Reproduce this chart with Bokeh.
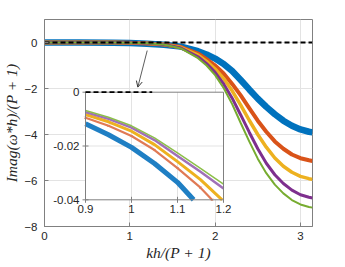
import numpy as np
from bokeh.plotting import figure
from bokeh.models import Range1d, FixedTicker, Arrow, OpenHead
from bokeh.embed import file_html
from bokeh.resources import INLINE
from bokeh.core.properties import value

# ---------------- data ----------------
x_main = [0.0, 0.4, 0.8, 1.0, 1.2, 1.4, 1.6, 1.8, 1.9, 2.0, 2.1, 2.2, 2.3,
          2.4, 2.5, 2.6, 2.7, 2.8, 2.9, 3.0, 3.1, 3.1416]
p1_main = [0.0, -0.0005, -0.006, -0.02, -0.05, -0.10, -0.18, -0.38, -0.52, -0.70, -0.93,
           -1.24, -1.63, -2.04, -2.44, -2.80, -3.12, -3.40, -3.62, -3.78, -3.88, -3.91]
p2_main = [0.0, -0.0004, -0.005, -0.016, -0.04, -0.09, -0.20, -0.48, -0.72, -1.00, -1.35,
           -1.80, -2.30, -2.85, -3.40, -3.88, -4.30, -4.62, -4.87, -5.03, -5.12, -5.15]
p3_main = [0.0, -0.0003, -0.004, -0.014, -0.035, -0.09, -0.22, -0.55, -0.82, -1.15, -1.57,
           -2.10, -2.72, -3.38, -4.00, -4.55, -5.02, -5.38, -5.64, -5.82, -5.92, -5.95]
p4_main = [0.0, -0.0003, -0.004, -0.013, -0.032, -0.09, -0.24, -0.62, -0.92, -1.30, -1.80,
           -2.42, -3.15, -3.90, -4.62, -5.25, -5.75, -6.13, -6.42, -6.62, -6.73, -6.76]
p5_main = [0.0, -0.0003, -0.004, -0.012, -0.031, -0.09, -0.26, -0.68, -1.00, -1.42, -1.98,
           -2.68, -3.50, -4.30, -5.05, -5.68, -6.18, -6.56, -6.85, -7.04, -7.15, -7.18]

# inset (zoom on 0.9 <= x <= 1.2)
x_in1 = [0.90, 0.95, 1.00, 1.05, 1.10, 1.135]
p1_in = [-0.0117, -0.0158, -0.0205, -0.0265, -0.0335, -0.0400]
x_in2 = [0.90, 0.95, 1.00, 1.05, 1.10, 1.15, 1.175]
p2_in = [-0.0095, -0.0125, -0.0163, -0.0215, -0.0282, -0.0355, -0.0400]
x_in3 = [0.90, 0.95, 1.00, 1.05, 1.10, 1.15, 1.197]
p3_in = [-0.0083, -0.0110, -0.0145, -0.0195, -0.0258, -0.0325, -0.0400]
x_in4 = [0.90, 0.95, 1.00, 1.05, 1.10, 1.15, 1.20]
p4_in = [-0.0074, -0.0099, -0.0132, -0.0178, -0.0237, -0.0296, -0.0358]
x_in5 = [0.90, 0.95, 1.00, 1.05, 1.10, 1.15, 1.20]
p5_in = [-0.0068, -0.0093, -0.0125, -0.0170, -0.0226, -0.0283, -0.0342]

x_ticks = [0, 1, 2, 3]
y_ticks = [-8, -6, -4, -2, 0]
in_x_ticks = [0.9, 1.0, 1.1, 1.2]
in_x_labels = ["0.9", "1", "1.1", "1.2"]
in_y_ticks = [0.0, -0.02, -0.04]
in_y_labels = ["0", "-0.02", "-0.04"]
in_xlim = [0.9, 1.2]
in_ylim = [-0.04, 0.0]
dash_x_main = [0.0, 3.1416]
dash_x_in = [0.9, 1.045]

colors = ["#0072BD", "#D95319", "#EDB120", "#7E2F8E", "#77AC30"]

# ---------------- figure ----------------
FW, FH = 268, 207          # frame size
BL, BT, BR, BB = 37, 19, 24, 37
p = figure(frame_width=FW, frame_height=FH, output_backend="svg", toolbar_location=None,
           x_range=Range1d(0, np.pi), y_range=Range1d(-8, 1),
           min_border_left=BL, min_border_right=BR, min_border_top=BT,
           min_border_bottom=BB)
p.background_fill_color = "white"
p.border_fill_color = "white"
p.outline_line_color = "#808080"
p.outline_line_width = 1

TICK_FONT = "Liberation Sans"
for ax in (p.xaxis[0], p.yaxis[0]):
    ax.major_tick_in = 4
    ax.major_tick_out = 0
    ax.minor_tick_in = 0
    ax.minor_tick_out = 0
    ax.axis_line_color = "#808080"
    ax.major_tick_line_color = "#808080"
    ax.major_label_text_font = TICK_FONT
    ax.major_label_text_font_size = "11.5px"
    ax.major_label_text_color = "#262626"
    ax.axis_label_text_font = "Liberation Serif"
    ax.axis_label_text_font_style = "italic"
    ax.axis_label_text_font_size = "15.5px"
    ax.axis_label_text_color = "#262626"

p.xaxis.ticker = FixedTicker(ticks=x_ticks)
p.yaxis.ticker = FixedTicker(ticks=y_ticks)
p.xaxis.major_label_standoff = 5
p.yaxis.major_label_standoff = 7
p.xaxis.axis_label = "kh/(P + 1)"
p.yaxis.axis_label = "Imag(ω*h)/(P + 1)"
p.xaxis.axis_label_standoff = 1
p.yaxis.axis_label_standoff = 1

p.xgrid.ticker = FixedTicker(ticks=x_ticks)
p.ygrid.ticker = FixedTicker(ticks=y_ticks)
p.grid.grid_line_color = "#e3e3e3"
p.grid.grid_line_width = 1

# ---------------- main curves ----------------
main_series = [p1_main, p2_main, p3_main, p4_main, p5_main]
main_widths = [6.5, 4, 3.5, 3, 2]
for ys, c, w in zip(main_series, colors, main_widths):
    p.line(x_main, ys, line_color=c, line_width=w)
p.line(dash_x_main, [0, 0], line_color="black", line_width=1.8, line_dash="5 3")

# ---------------- inset (extra ranges mapped onto a sub-rectangle of the frame) ----------------
# pixel offsets of the inset box inside the frame
il, ir, it, ib = 41.0, 179.0, 72.7, 180.3
sx = (in_xlim[1] - in_xlim[0]) / (ir - il)
sy = (in_ylim[1] - in_ylim[0]) / (ib - it)
p.extra_x_ranges = {"ix": Range1d(in_xlim[0] - il * sx, in_xlim[1] + (FW - ir) * sx)}
p.extra_y_ranges = {"iy": Range1d(in_ylim[0] - (FH - ib) * sy, in_ylim[1] + it * sy)}
kw = dict(x_range_name="ix", y_range_name="iy")

p.quad(left=[in_xlim[0]], right=[in_xlim[1]], bottom=[in_ylim[0]], top=[in_ylim[1]],
       fill_color="white", line_color=None, **kw)
# inset grid
for xt in in_x_ticks[1:-1]:
    p.line([xt, xt], in_ylim, line_color="#e3e3e3", line_width=1, **kw)
for yt in in_y_ticks[1:-1]:
    p.line(in_xlim, [yt, yt], line_color="#e3e3e3", line_width=1, **kw)

inset_series = [(x_in1, p1_in), (x_in2, p2_in), (x_in3, p3_in), (x_in4, p4_in), (x_in5, p5_in)]
inset_colors = ["#1f7fc4", "#e07a55", "#EDB120", "#a070b8", "#8cbf4a"]
inset_widths = [5, 2.2, 3, 2.5, 1.5]
for (xs, ys), c, w in zip(inset_series, inset_colors, inset_widths):
    p.line(xs, ys, line_color=c, line_width=w, **kw)
p.scatter(x_in2, p2_in, marker="x", size=3, line_color="#e07a55", line_width=1, **kw)

# inset box
p.quad(left=[in_xlim[0]], right=[in_xlim[1]], bottom=[in_ylim[0]], top=[in_ylim[1]],
       fill_color=None, line_color="#808080", line_width=1, **kw)
# inset ticks (inside)
p.scatter(in_x_ticks, [in_ylim[0]] * len(in_x_ticks), marker="dash", angle=np.pi / 2,
          size=6, line_color="#808080", **kw)
p.scatter([in_xlim[0]] * len(in_y_ticks), in_y_ticks, marker="dash", size=6,
          line_color="#808080", **kw)
p.line(dash_x_in, [0, 0], line_color="black", line_width=1.8, line_dash="5 3", **kw)

# inset tick labels
p.text(in_x_ticks, [in_ylim[0]] * len(in_x_ticks), text=in_x_labels,
       text_font=value(TICK_FONT), text_font_size="11.5px", text_color="#262626",
       text_align="center", text_baseline="top", y_offset=5, **kw)
p.text([in_xlim[0]] * len(in_y_ticks), in_y_ticks, text=in_y_labels,
       text_font=value(TICK_FONT), text_font_size="11.5px", text_color="#262626",
       text_align="right", text_baseline="middle", x_offset=-6, **kw)

# arrow
arrow_start = (1.204, -0.35)
arrow_end = (1.094, -1.94)
p.add_layout(Arrow(end=OpenHead(size=6, line_width=1, line_color="#333333"),
                   x_start=arrow_start[0], y_start=arrow_start[1],
                   x_end=arrow_end[0], y_end=arrow_end[1],
                   line_color="#333333", line_width=0.8))

open("out.html", "w").write(file_html(p, INLINE))
